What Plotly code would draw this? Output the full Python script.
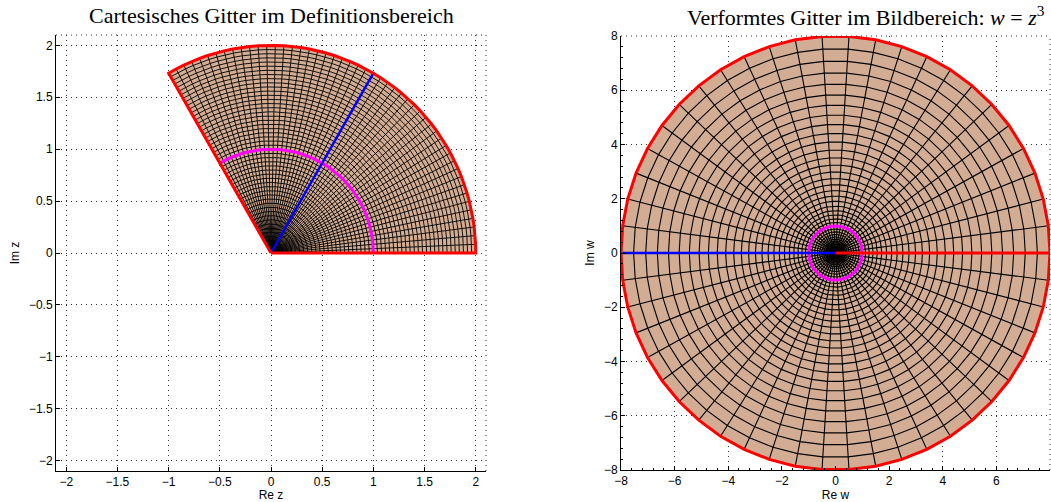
import numpy as np
import plotly.graph_objects as go

# ---- data: polar grid in the domain and its image under w = z^3 ----
r_max = 2.0
n_r = 50                      # number of radial steps
theta_max_deg = 120.0
n_theta = 50                  # number of angular steps
exponent = 3
unit_radius = 1.0             # magenta circle |z| = 1
blue_angle_deg = 60.0         # blue ray arg z = 60°

left_ticks = [-2, -1.5, -1, -0.5, 0, 0.5, 1, 1.5, 2]
left_ticklabels = ["\u22122", "\u22121.5", "\u22121", "\u22120.5", "0", "0.5", "1", "1.5", "2"]
right_ticks = [-8, -6, -4, -2, 0, 2, 4, 6, 8]
right_ticklabels = ["\u22128", "\u22126", "\u22124", "\u22122", "0", "2", "4", "6", "8"]

r_vals = np.linspace(0, r_max, n_r + 1)
t_vals = np.deg2rad(np.linspace(0, theta_max_deg, n_theta + 1))

FILL = "#D3AD93"
TAN_LINE = "black"


def grid_lines(power):
    xs, ys = [], []
    for r in r_vals[1:]:
        z = (r * np.exp(1j * t_vals)) ** power
        xs += list(z.real) + [None]
        ys += list(z.imag) + [None]
    for t in t_vals:
        z = (r_vals * np.exp(1j * t)) ** power
        xs += list(z.real) + [None]
        ys += list(z.imag) + [None]
    return xs, ys


def boundary(power):
    z = np.concatenate([r_vals * np.exp(1j * t_vals[0]),
                        r_max * np.exp(1j * t_vals),
                        r_vals[::-1] * np.exp(1j * t_vals[-1])]) ** power
    return z.real, z.imag


def unit_arc(power):
    z = (unit_radius * np.exp(1j * t_vals)) ** power
    return z.real, z.imag


def blue_ray(power):
    z = (r_vals * np.exp(1j * np.deg2rad(blue_angle_deg))) ** power
    return z.real, z.imag


fig = go.Figure()

for k, (power, xa, ya) in enumerate([(1, "x", "y"), (exponent, "x2", "y2")]):
    bx, by = boundary(power)
    fig.add_trace(go.Scatter(x=bx, y=by, xaxis=xa, yaxis=ya, mode="lines",
                             fill="toself", fillcolor=FILL,
                             line=dict(width=0, color=FILL), hoverinfo="skip"))
    gx, gy = grid_lines(power)
    fig.add_trace(go.Scatter(x=gx, y=gy, xaxis=xa, yaxis=ya, mode="lines",
                             line=dict(width=0.9 if power == 1 else 1.1, color=TAN_LINE),
                             hoverinfo="skip"))
    mx, my = unit_arc(power)
    fig.add_trace(go.Scatter(x=mx, y=my, xaxis=xa, yaxis=ya, mode="lines",
                             line=dict(width=3, color="#FF00FF"), hoverinfo="skip"))
    lx, ly = blue_ray(power)
    fig.add_trace(go.Scatter(x=lx, y=ly, xaxis=xa, yaxis=ya, mode="lines",
                             line=dict(width=2.5, color="#0000FF"), hoverinfo="skip"))
    fig.add_trace(go.Scatter(x=bx, y=by, xaxis=xa, yaxis=ya, mode="lines",
                             line=dict(width=3, color="#FF0000"), hoverinfo="skip"))

W, H = 1051, 502
L1, R1 = 56, 486
L2, R2 = 621, 1050
T1, B1 = 35, 471
T2, B2 = 36, 470

tickfont = dict(family="Liberation Sans, Arial, sans-serif", size=12, color="black")
titlefont = dict(family="Liberation Sans, Arial, sans-serif", size=12, color="black")
common = dict(showgrid=True, gridcolor="#333", griddash="1px,4px", gridwidth=1,
              zeroline=False, showline=True, linecolor="black", linewidth=1,
              ticks="inside", ticklen=4, tickcolor="black", tickfont=tickfont,
              mirror=False, automargin=False)

fig.update_layout(
    width=W, height=H, margin=dict(l=0, r=0, t=0, b=0),
    paper_bgcolor="white", plot_bgcolor="white", showlegend=False,
    xaxis=dict(domain=[L1 / W, R1 / W], range=[-2.1, 2.1], tickvals=left_ticks,
               ticktext=left_ticklabels, anchor="y",
               title=dict(text="Re z", font=titlefont, standoff=2), **common),
    yaxis=dict(domain=[1 - B1 / H, 1 - T1 / H], range=[-2.1, 2.1], tickvals=left_ticks,
               ticktext=left_ticklabels, anchor="x",
               title=dict(text="Im z", font=titlefont, standoff=6), **common),
    xaxis2=dict(domain=[L2 / W, R2 / W], range=[-8, 8], tickvals=right_ticks,
                ticktext=right_ticklabels, anchor="y2",
                title=dict(text="Re w", font=titlefont, standoff=2),
                minor=dict(ticks="inside", ticklen=2, dtick=0.4, tickcolor="black", showgrid=False),
                **common),
    yaxis2=dict(domain=[1 - B2 / H, 1 - T2 / H], range=[-8, 8], tickvals=right_ticks,
                ticktext=right_ticklabels, anchor="x2",
                title=dict(text="Im w", font=titlefont, standoff=6),
                minor=dict(ticks="inside", ticklen=2, dtick=0.4, tickcolor="black", showgrid=False),
                **common),
)

for xr, yr in [("x domain", "y domain"), ("x2 domain", "y2 domain")]:
    fig.add_shape(type="line", xref=xr, yref=yr, x0=0, x1=1, y0=1, y1=1,
                  line=dict(color="#333", width=1, dash="1px,4px"))
    fig.add_shape(type="line", xref=xr, yref=yr, x0=1, x1=1, y0=0, y1=1,
                  line=dict(color="#333", width=1, dash="1px,4px"))

serif = dict(family="Liberation Serif, DejaVu Serif, serif", size=22, color="black")
fig.add_annotation(x=(L1 + R1) / 2 / W, y=1 - 16 / H, xref="paper", yref="paper",
                   text="Cartesisches Gitter im Definitionsbereich", showarrow=False,
                   font=serif, xanchor="center", yanchor="middle")
fig.add_annotation(x=1047 / W, y=1 - 16 / H, xref="paper", yref="paper",
                   text="Verformtes Gitter im Bildbereich: <i>w</i>\u2005=\u2005<i>z</i><sup>3</sup>",
                   showarrow=False, font=serif, xanchor="right", yanchor="middle")

fig.write_html("out.html")
